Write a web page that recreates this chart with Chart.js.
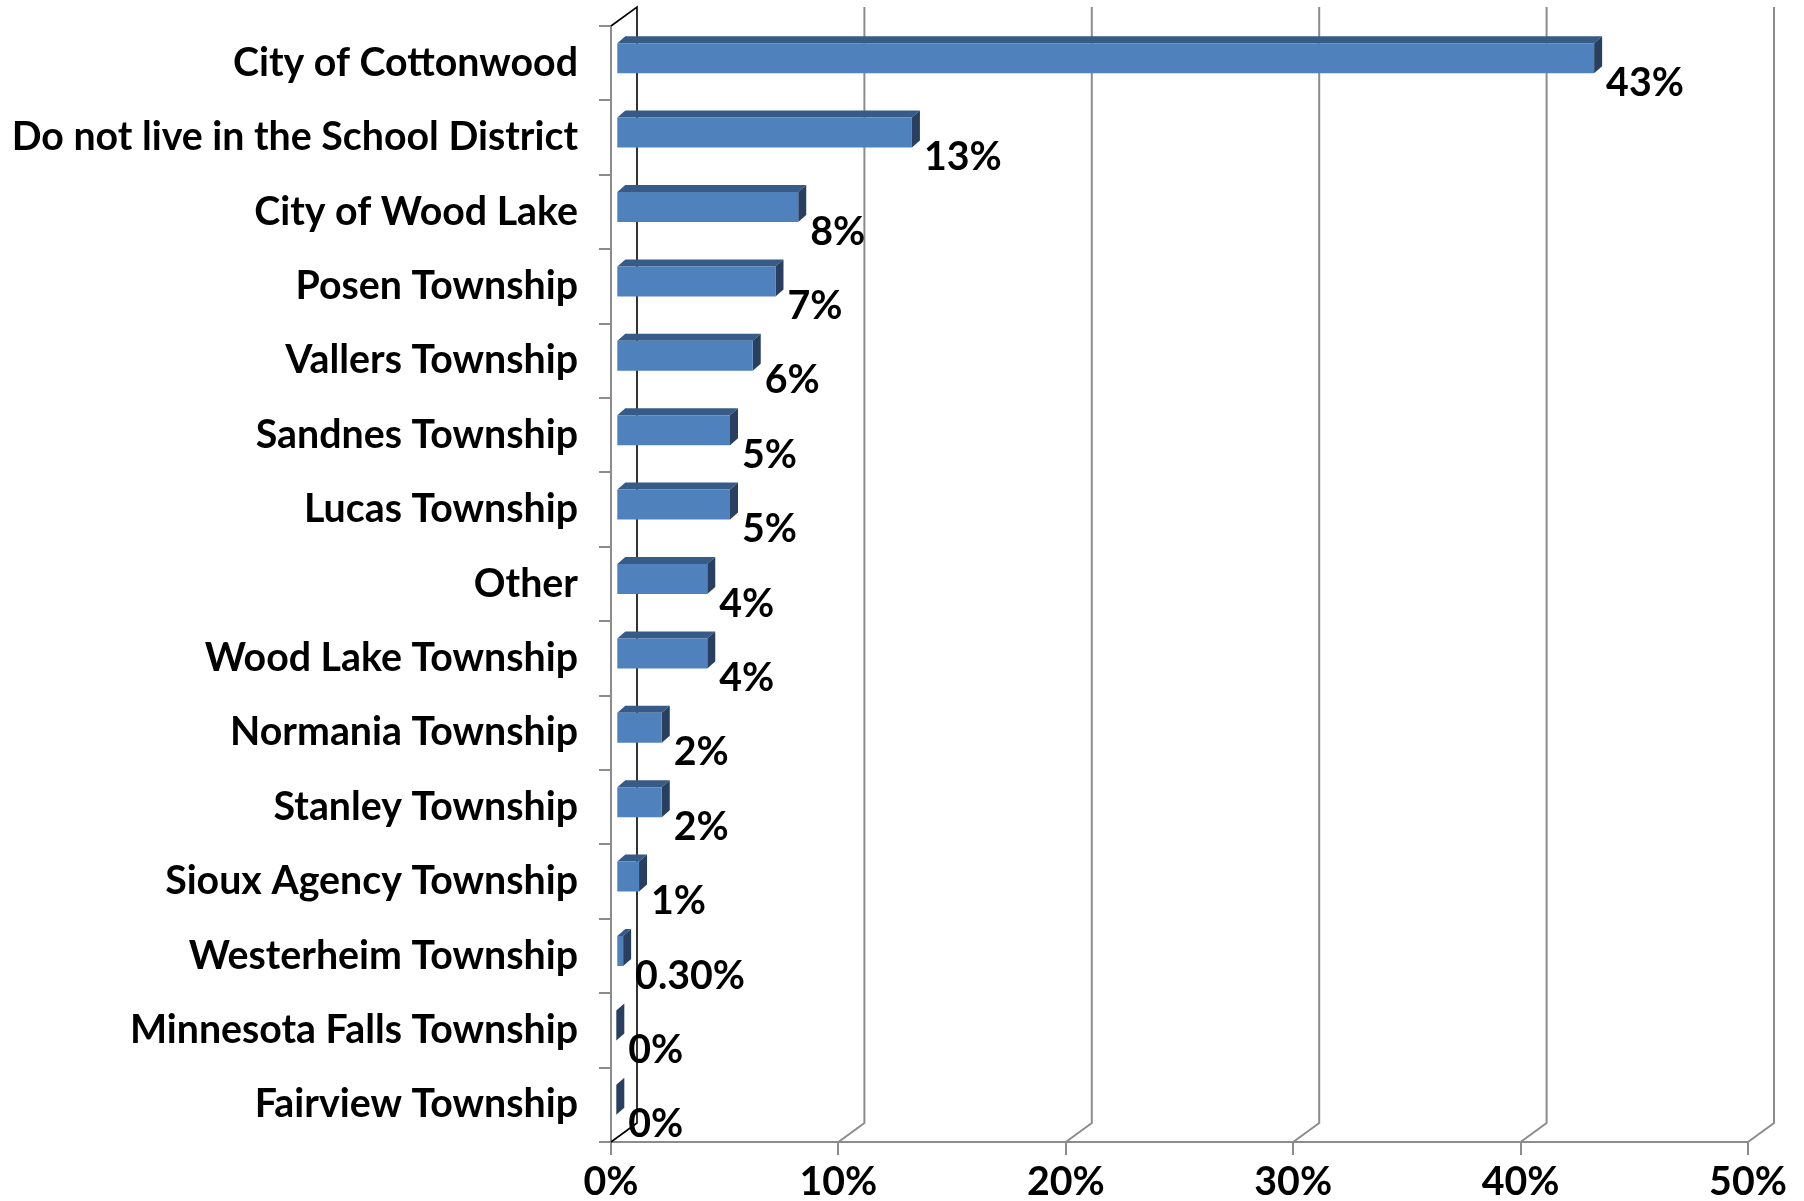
<!DOCTYPE html>
<html>
<head>
<meta charset="utf-8">
<script src="https://cdn.jsdelivr.net/npm/chart.js@4.4.1/dist/chart.umd.min.js"></script>
<style>
html,body{margin:0;padding:0;background:#fff;}
#c{display:block;}
</style>
</head>
<body>
<canvas id="c" width="1804" height="1201"></canvas>
<script>
const categories = [
  "City of Cottonwood",
  "Do not live in the School District",
  "City of Wood Lake",
  "Posen Township",
  "Vallers Township",
  "Sandnes Township",
  "Lucas Township",
  "Other",
  "Wood Lake Township",
  "Normania Township",
  "Stanley Township",
  "Sioux Agency Township",
  "Westerheim Township",
  "Minnesota Falls Township",
  "Fairview Township"
];
const values = [43, 13, 8, 7, 6, 5, 5, 4, 4, 2, 2, 1, 0.3, 0, 0];
const xTickValues = [0, 10, 20, 30, 40, 50];

// 3D look parameters (styling only)
const WALL_DX = 26, WALL_DY = -19;
const BAR_OX = 5.3, BAR_OY = -5;
const BAR_DX = 8, BAR_DY = -7;
const FRONT = '#4F81BD', TOP = '#375B87', SIDE = '#283F5F';
const GRID = '#8C8C8C';

// Fit font size to match reference label width
const mctx = document.createElement('canvas').getContext('2d');
mctx.font = 'bold 100px Lato';
const wLong = mctx.measureText('Do not live in the School District').width;
const FS = Math.round(100 * 567 / wLong * 10) / 10;
const FONT = {family: 'Lato', weight: 'bold', size: FS};

function fmt(v) {
  if (v > 0 && v < 1) return v.toFixed(2) + '%';
  return Math.round(v) + '%';
}

const threeD = {
  id: 'threeD',
  beforeDatasetsDraw(chart) {
    const ctx = chart.ctx, a = chart.chartArea, xs = chart.scales.x;
    ctx.save();
    ctx.lineWidth = 2;
    ctx.strokeStyle = GRID;
    xs.ticks.forEach(t => {
      if (t.value === 0) return;
      const px = xs.getPixelForValue(t.value);
      ctx.beginPath();
      ctx.moveTo(px, a.bottom);
      ctx.lineTo(px + WALL_DX, a.bottom + WALL_DY);
      ctx.lineTo(px + WALL_DX, a.top + WALL_DY);
      ctx.stroke();
    });
    const x0 = xs.getPixelForValue(0);
    ctx.strokeStyle = '#000';
    ctx.lineWidth = 1.6;
    ctx.beginPath();
    ctx.moveTo(x0, a.top);
    ctx.lineTo(x0 + WALL_DX, a.top + WALL_DY);
    ctx.lineTo(x0 + WALL_DX, a.bottom + WALL_DY);
    ctx.lineTo(x0, a.bottom);
    ctx.stroke();
    const meta = chart.getDatasetMeta(0);
    meta.data.forEach(el => {
      const p = el.getProps(['x', 'y', 'base', 'height'], true);
      const xl = Math.min(p.base, p.x) + BAR_OX, xr = Math.max(p.base, p.x) + BAR_OX;
      const yt = p.y - p.height / 2 + BAR_OY, yb = p.y + p.height / 2 + BAR_OY;
      ctx.fillStyle = TOP;
      ctx.beginPath();
      ctx.moveTo(xl, yt);
      ctx.lineTo(xl + BAR_DX, yt + BAR_DY);
      ctx.lineTo(xr + BAR_DX, yt + BAR_DY);
      ctx.lineTo(xr, yt);
      ctx.closePath();
      ctx.fill();
      ctx.fillStyle = SIDE;
      ctx.beginPath();
      ctx.moveTo(xr, yt);
      ctx.lineTo(xr + BAR_DX, yt + BAR_DY);
      ctx.lineTo(xr + BAR_DX, yb + BAR_DY);
      ctx.lineTo(xr, yb);
      ctx.closePath();
      ctx.fill();
    });
    ctx.restore();
    ctx.save();
    ctx.translate(BAR_OX, BAR_OY);
  },
  afterDatasetsDraw(chart) {
    const ctx = chart.ctx;
    ctx.restore();
    const meta = chart.getDatasetMeta(0);
    ctx.save();
    ctx.fillStyle = '#000';
    ctx.font = 'bold ' + FS + 'px Lato';
    ctx.textAlign = 'left';
    ctx.textBaseline = 'middle';
    meta.data.forEach((el, i) => {
      const p = el.getProps(['x', 'y'], true);
      ctx.fillText(fmt(values[i]), p.x + BAR_OX + 12, p.y + 20);
    });
    ctx.restore();
  }
};

new Chart(document.getElementById('c'), {
  type: 'bar',
  data: {
    labels: categories,
    datasets: [{
      data: values,
      backgroundColor: FRONT,
      borderWidth: 0,
      categoryPercentage: 1,
      barPercentage: 0.403
    }]
  },
  options: {
    indexAxis: 'y',
    responsive: false,
    devicePixelRatio: 1,
    animation: false,
    layout: {padding: {top: 26, right: 56, left: 0, bottom: 0}},
    plugins: {legend: {display: false}, tooltip: {enabled: false}},
    scales: {
      x: {
        type: 'linear',
        min: 0, max: 50,
        afterBuildTicks(scale) { scale.ticks = xTickValues.map(v => ({value: v})); },
        afterFit(scale) { scale.height = 59; scale.paddingLeft = 0; scale.paddingRight = 0; },
        grid: {drawOnChartArea: false, drawTicks: true, tickLength: 13, color: GRID, lineWidth: 2},
        border: {display: true, color: GRID, width: 2},
        ticks: {color: '#000', font: FONT, padding: 4, callback: v => v + '%'}
      },
      y: {
        type: 'category',
        afterFit(scale) { scale.width = 611; scale.paddingTop = 0; scale.paddingBottom = 0; },
        grid: {offset: true, drawOnChartArea: false, drawTicks: true, tickLength: 12, color: GRID, lineWidth: 2},
        border: {display: true, color: GRID, width: 2},
        ticks: {color: '#000', font: FONT, padding: 21}
      }
    }
  },
  plugins: [threeD]
});
</script>
</body>
</html>
